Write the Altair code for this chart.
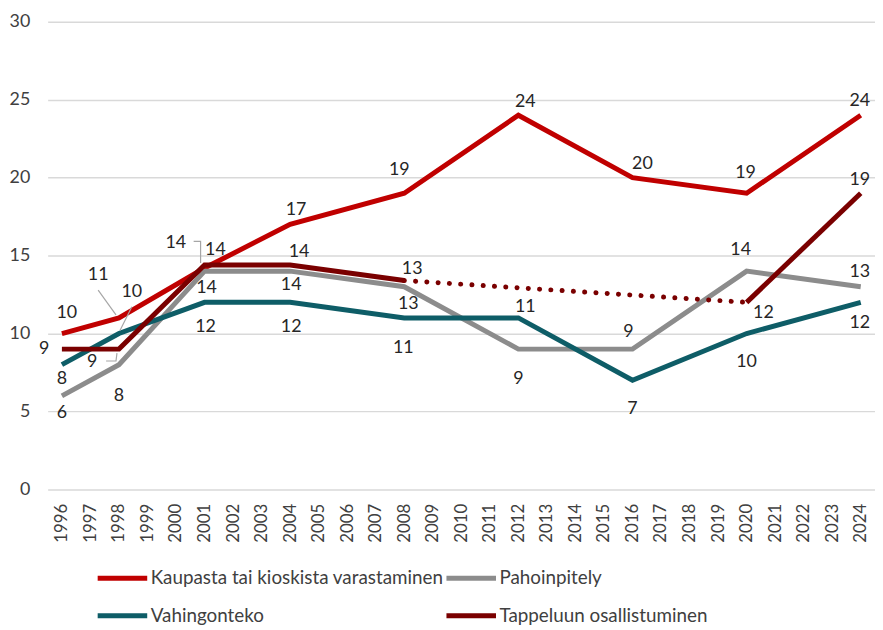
import altair as alt
import pandas as pd

# ---------------- data ----------------
years = [1996, 1998, 2001, 2004, 2008, 2012, 2016, 2020, 2024]
all_years = list(range(1996, 2025))

series_names = [
    "Kaupasta tai kioskista varastaminen",
    "Pahoinpitely",
    "Vahingonteko",
    "Tappeluun osallistuminen",
]
varastaminen = [10, 11, 14.2, 17, 19, 24, 20, 19, 24]
pahoinpitely = [6, 8, 14, 14, 13, 9, 9, 14, 13]
vahingonteko = [8, 10, 12, 12, 11, 11, 7, 10, 12]
tappelu = [9, 9, 14.4, 14.4, 13.4, None, None, 12, 19]
colors = ["#C00000", "#8C8C8C", "#0E5D67", "#7A0000"]

# label placement (pixel offsets of label centre from its point)
label_dx = {
    series_names[0]: [5, -21, -29, 6, -5, 7, 10, -1, -1],
    series_names[1]: [0, 0, 2, 1, 4, 0, -4, -6, -1],
    series_names[2]: [0, 13, 1, 1, -1, 7, 0, 0, -1],
    series_names[3]: [-18, -27, 11, 9, 8, 0, 0, 17, -1],
}
label_dy = {
    series_names[0]: [-21, -43, -25, -14, -23, -13, -14, -20, -14],
    series_names[1]: [17, 32, 17, 14, 17, 30, -17, -21, -15],
    series_names[2]: [14, -42, 25, 25, 30, -11, 29, 29, 21],
    series_names[3]: [0, 13, -15, -13, -12, 0, 0, 11, -13],
}
# leader lines (series, year, list of pixel offsets from point)
leaders = [
    (series_names[0], 1998, [(-21, -28), (-3, -3)]),
    (series_names[0], 2001, [(-11, -27), (-4, -27), (-4, -5)]),
    (series_names[2], 1998, [(13, -27), (1, -3)]),
    (series_names[3], 1998, [(-13, 12), (-3, 12), (-2, 4)]),
]

values = dict(zip(series_names, [varastaminen, pahoinpitely, vahingonteko, tappelu]))

# ---------------- geometry ----------------
W, H = 835, 472
x_dom = [1995.5, 2024.5]
y_dom = [0, 30]
ppx = W / (x_dom[1] - x_dom[0])
ppy = H / (y_dom[1] - y_dom[0])
FONT = "Lato"
TXT = "#262626"

# ---------------- tables ----------------
line_rows, dot_rows, label_rows, leader_rows = [], [], [], []
for s in series_names:
    seg = 0
    prev_none = False
    for i, (yr, v) in enumerate(zip(years, values[s])):
        if v is None:
            if not prev_none:
                seg += 1
            prev_none = True
            continue
        prev_none = False
        line_rows.append(dict(series=s, year=yr, value=v, seg=f"{s}-{seg}"))
        label_rows.append(dict(series=s, year=yr, value=v,
                               lx=yr + label_dx[s][i] / ppx,
                               ly=v - label_dy[s][i] / ppy))
    vals = values[s]
    for i in range(len(vals)):
        if vals[i] is None and i > 0 and vals[i - 1] is not None:
            j = i
            while j < len(vals) and vals[j] is None:
                j += 1
            if j < len(vals):
                gid = f"{s}-gap{i}"
                dot_rows.append(dict(g=gid, year=years[i - 1], value=vals[i - 1]))
                dot_rows.append(dict(g=gid, year=years[j], value=vals[j]))

for k, (s, yr, path) in enumerate(leaders):
    v = values[s][years.index(yr)]
    for o, (dx, dy) in enumerate(path):
        leader_rows.append(dict(id=k, o=o, x=yr + dx / ppx, y=v - dy / ppy))

lines_df = pd.DataFrame(line_rows)
dots_df = pd.DataFrame(dot_rows)
labels_df = pd.DataFrame(label_rows)
leaders_df = pd.DataFrame(leader_rows)

xs = alt.Scale(domain=x_dom, nice=False, zero=False)
ys = alt.Scale(domain=y_dom, nice=False)

color_scale = alt.Scale(domain=series_names, range=colors)
legend = alt.Legend(
    orient="none", legendX=48, legendY=534, columns=2, direction="horizontal",
    title=None, symbolType="stroke", symbolSize=2500, symbolStrokeWidth=5,
    labelFont=FONT, labelFontSize=19, labelColor="#404040",
    labelLimit=500, labelOffset=1, columnPadding=-9, rowPadding=-3,
)

x_axis = alt.Axis(values=all_years, format="d", labelAngle=-90, grid=False,
                  ticks=False, domain=False, title=None, labelFont=FONT,
                  labelFontSize=17, labelColor="#404040", labelPadding=14,
                  labelOverlap=False, labelFlush=False)
y_axis = alt.Axis(values=list(range(0, 31, 5)), grid=True, gridColor="#D9D9D9",
                  gridWidth=1.5, ticks=False, domain=False, title=None,
                  labelFont=FONT, labelFontSize=18, labelColor="#404040",
                  labelPadding=18)


def X(field):
    return alt.X(field, type="quantitative", scale=xs, axis=x_axis)


def Y(field):
    return alt.Y(field, type="quantitative", scale=ys, axis=y_axis)


layers = []
for s in series_names:
    layers.append(
        alt.Chart(lines_df[lines_df.series == s]).mark_line(strokeWidth=5).encode(
            x=X("year"),
            y=Y("value"),
            color=alt.Color("series:N", scale=color_scale, legend=legend),
            detail="seg:N",
        )
    )
    if s == series_names[3] and len(dots_df):
        layers.append(
            alt.Chart(dots_df).mark_line(strokeWidth=5, strokeDash=[0.1, 11.3],
                                         strokeCap="round", color=colors[3]).encode(
                x=X("year"),
                y=Y("value"),
                detail="g:N",
            )
        )

layers.append(
    alt.Chart(leaders_df).mark_line(color="#A6A6A6", strokeWidth=1.2).encode(
        x=X("x"),
        y=Y("y"),
        detail="id:N",
        order="o:Q",
    )
)
layers.append(
    alt.Chart(labels_df).mark_text(font=FONT, fontSize=18, color=TXT,
                                   align="center", baseline="middle").encode(
        x=X("lx"),
        y=Y("ly"),
        text=alt.Text("value:Q", format=".0f"),
    )
)

chart = alt.layer(*layers).properties(
    width=W, height=H,
    autosize=alt.AutoSizeParams(type="none"),
    padding={"left": 40, "top": 11, "right": 0, "bottom": 136},
).configure_view(stroke=None)

chart.save("out.html", embed_options={"renderer": "svg", "actions": False})
